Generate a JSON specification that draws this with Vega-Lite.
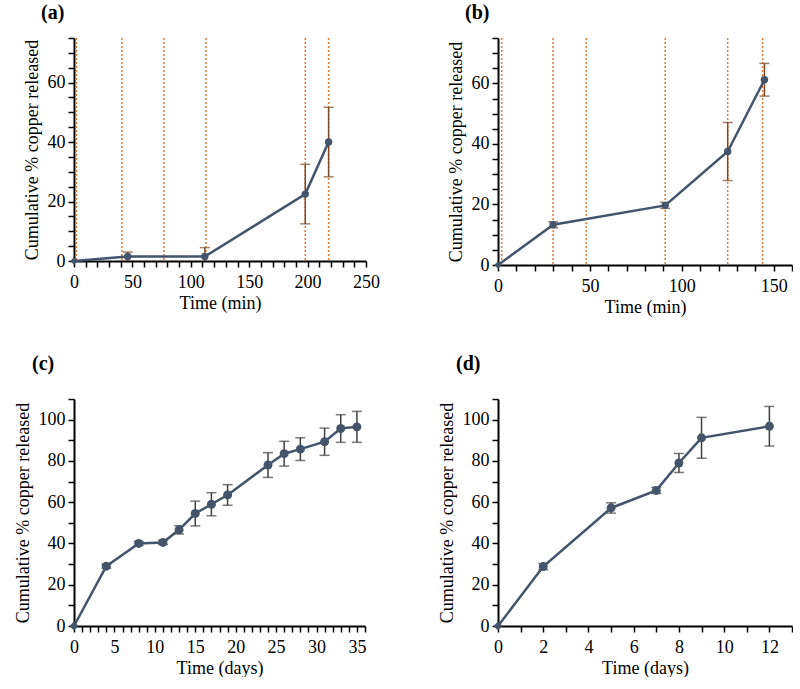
{
  "$schema": "https://vega.github.io/schema/vega-lite/v6.json",
  "padding": {"left": 14, "top": 3, "right": 0, "bottom": 0},
  "background": "white",
  "datasets": {
    "a": [{"t":0,"v":0,"e":0},{"t":46,"v":1.5,"e":1.5},{"t":112,"v":1.5,"e":3},{"t":198,"v":22.5,"e":10},{"t":218,"v":40,"e":11.7}],
    "a_lines": [{"t":2},{"t":41},{"t":77},{"t":113},{"t":198},{"t":218}],
    "b": [{"t":0,"v":0,"e":0},{"t":30,"v":13.3,"e":1},{"t":91,"v":19.7,"e":1},{"t":125,"v":37.5,"e":9.6},{"t":145,"v":61.2,"e":5.4}],
    "b_lines": [{"t":2},{"t":30},{"t":48},{"t":91},{"t":125},{"t":144}],
    "c": [{"t":0,"v":0,"e":0},{"t":4,"v":29,"e":1},{"t":8,"v":40,"e":1},{"t":11,"v":40.5,"e":1},{"t":13,"v":46.6,"e":2},{"t":15,"v":54.5,"e":6},{"t":17,"v":59,"e":5.6},{"t":19,"v":63.5,"e":5},{"t":24,"v":78,"e":6},{"t":26,"v":83.5,"e":6},{"t":28,"v":85.7,"e":5.5},{"t":31,"v":89.3,"e":6.6},{"t":33,"v":95.7,"e":6.7},{"t":35,"v":96.5,"e":7.5}],
    "d": [{"t":0,"v":0,"e":0},{"t":2,"v":28.8,"e":1.5},{"t":5,"v":57.2,"e":2.5},{"t":7,"v":65.7,"e":1.5},{"t":8,"v":79,"e":4.6},{"t":9,"v":91.2,"e":9.9},{"t":12,"v":96.8,"e":9.6}]
  },
  "columns": 2,
  "spacing": {"row": 38, "column": 58},
  "concat": [
    {
      "width": 292, "height": 223,
      "title": {"text": "(a)", "dx": 18, "offset": 6},
      "layer": [
        {"data": {"name": "a_lines"}, "mark": {"type": "rule", "color": "#E07B39", "strokeDash": [2,2], "strokeWidth": 1.5},
         "encoding": {"x": {"field": "t", "type": "quantitative", "scale": {"domain": [0,250], "nice": false}, "title": "Time (min)",
             "axis": {"values": [0,10,20,30,40,50,60,70,80,90,100,110,120,130,140,150,160,170,180,190,200,210,220,230,240,250], "labelExpr": "datum.value % 50 == 0 ? datum.label : ''"}}}},
        {"data": {"name": "a"}, "transform": [{"filter": "datum.e > 0"}],
         "mark": {"type": "errorbar", "ticks": {"size": 10}, "color": "#7A4A2A", "thickness": 1.5, "clip": true},
         "encoding": {"x": {"field": "t", "type": "quantitative", "scale": {"domain": [0,250], "nice": false}, "title": "Time (min)",
             "axis": {"values": [0,10,20,30,40,50,60,70,80,90,100,110,120,130,140,150,160,170,180,190,200,210,220,230,240,250], "labelExpr": "datum.value % 50 == 0 ? datum.label : ''"}},
           "y": {"field": "v", "type": "quantitative", "scale": {"domain": [0,75], "nice": false}, "title": "Cumulative % copper released",
             "axis": {"values": [0,5,10,15,20,25,30,35,40,45,50,55,60,65,70,75], "labelExpr": "datum.value % 20 == 0 ? datum.label : ''"}},
           "yError": {"field": "e"}}},
        {"data": {"name": "a"}, "mark": {"type": "line", "color": "#44546A", "strokeWidth": 2.5},
         "encoding": {"x": {"field": "t", "type": "quantitative", "scale": {"domain": [0,250], "nice": false}, "title": "Time (min)",
             "axis": {"values": [0,10,20,30,40,50,60,70,80,90,100,110,120,130,140,150,160,170,180,190,200,210,220,230,240,250], "labelExpr": "datum.value % 50 == 0 ? datum.label : ''"}},
           "y": {"field": "v", "type": "quantitative", "scale": {"domain": [0,75], "nice": false}, "title": "Cumulative % copper released",
             "axis": {"values": [0,5,10,15,20,25,30,35,40,45,50,55,60,65,70,75], "labelExpr": "datum.value % 20 == 0 ? datum.label : ''"}}}},
        {"data": {"name": "a"}, "mark": {"type": "point", "filled": true, "opacity": 1, "color": "#44546A", "size": 55},
         "encoding": {"x": {"field": "t", "type": "quantitative", "scale": {"domain": [0,250], "nice": false}, "title": "Time (min)",
             "axis": {"values": [0,10,20,30,40,50,60,70,80,90,100,110,120,130,140,150,160,170,180,190,200,210,220,230,240,250], "labelExpr": "datum.value % 50 == 0 ? datum.label : ''"}},
           "y": {"field": "v", "type": "quantitative", "scale": {"domain": [0,75], "nice": false}, "title": "Cumulative % copper released",
             "axis": {"values": [0,5,10,15,20,25,30,35,40,45,50,55,60,65,70,75], "labelExpr": "datum.value % 20 == 0 ? datum.label : ''"}},
           "shape": {"condition": {"test": "datum.t == 0", "value": "diamond"}, "value": "circle"}}}
      ]
    },
    {
      "width": 294, "height": 227,
      "title": {"text": "(b)", "dx": 18, "offset": 6},
      "layer": [
        {"data": {"name": "b_lines"}, "mark": {"type": "rule", "color": "#E07B39", "strokeDash": [2,2], "strokeWidth": 1.5},
         "encoding": {"x": {"field": "t", "type": "quantitative", "scale": {"domain": [0,160], "nice": false}, "title": "Time (min)",
             "axis": {"values": [0,10,20,30,40,50,60,70,80,90,100,110,120,130,140,150,160], "labelExpr": "datum.value % 50 == 0 ? datum.label : ''"}}}},
        {"data": {"name": "b"}, "transform": [{"filter": "datum.e > 0"}],
         "mark": {"type": "errorbar", "ticks": {"size": 10}, "color": "#7A4A2A", "thickness": 1.5, "clip": true},
         "encoding": {"x": {"field": "t", "type": "quantitative", "scale": {"domain": [0,160], "nice": false}, "title": "Time (min)",
             "axis": {"values": [0,10,20,30,40,50,60,70,80,90,100,110,120,130,140,150,160], "labelExpr": "datum.value % 50 == 0 ? datum.label : ''"}},
           "y": {"field": "v", "type": "quantitative", "scale": {"domain": [0,75], "nice": false}, "title": "Cumulative % copper released",
             "axis": {"values": [0,5,10,15,20,25,30,35,40,45,50,55,60,65,70,75], "labelExpr": "datum.value % 20 == 0 ? datum.label : ''"}},
           "yError": {"field": "e"}}},
        {"data": {"name": "b"}, "mark": {"type": "line", "color": "#44546A", "strokeWidth": 2.5},
         "encoding": {"x": {"field": "t", "type": "quantitative", "scale": {"domain": [0,160], "nice": false}, "title": "Time (min)",
             "axis": {"values": [0,10,20,30,40,50,60,70,80,90,100,110,120,130,140,150,160], "labelExpr": "datum.value % 50 == 0 ? datum.label : ''"}},
           "y": {"field": "v", "type": "quantitative", "scale": {"domain": [0,75], "nice": false}, "title": "Cumulative % copper released",
             "axis": {"values": [0,5,10,15,20,25,30,35,40,45,50,55,60,65,70,75], "labelExpr": "datum.value % 20 == 0 ? datum.label : ''"}}}},
        {"data": {"name": "b"}, "mark": {"type": "point", "filled": true, "opacity": 1, "color": "#44546A", "size": 55},
         "encoding": {"x": {"field": "t", "type": "quantitative", "scale": {"domain": [0,160], "nice": false}, "title": "Time (min)",
             "axis": {"values": [0,10,20,30,40,50,60,70,80,90,100,110,120,130,140,150,160], "labelExpr": "datum.value % 50 == 0 ? datum.label : ''"}},
           "y": {"field": "v", "type": "quantitative", "scale": {"domain": [0,75], "nice": false}, "title": "Cumulative % copper released",
             "axis": {"values": [0,5,10,15,20,25,30,35,40,45,50,55,60,65,70,75], "labelExpr": "datum.value % 20 == 0 ? datum.label : ''"}},
           "shape": {"condition": {"test": "datum.t == 0", "value": "diamond"}, "value": "circle"}}}
      ]
    },
    {
      "width": 291, "height": 227,
      "title": {"text": "(c)", "dx": 18, "offset": 16},
      "layer": [
        {"data": {"name": "c"}, "transform": [{"filter": "datum.e > 0"}],
         "mark": {"type": "errorbar", "ticks": {"size": 10}, "color": "#404040", "thickness": 1.5},
         "encoding": {"x": {"field": "t", "type": "quantitative", "scale": {"domain": [0,36], "nice": false}, "title": "Time (days)",
             "axis": {"values": [0,1,2,3,4,5,6,7,8,9,10,11,12,13,14,15,16,17,18,19,20,21,22,23,24,25,26,27,28,29,30,31,32,33,34,35,36], "labelExpr": "datum.value % 5 == 0 ? datum.label : ''"}},
           "y": {"field": "v", "type": "quantitative", "scale": {"domain": [0,110], "nice": false}, "title": "Cumulative % copper released",
             "axis": {"values": [0,10,20,30,40,50,60,70,80,90,100,110], "labelExpr": "datum.value % 20 == 0 ? datum.label : ''"}},
           "yError": {"field": "e"}}},
        {"data": {"name": "c"}, "mark": {"type": "line", "color": "#44546A", "strokeWidth": 2.5},
         "encoding": {"x": {"field": "t", "type": "quantitative", "scale": {"domain": [0,36], "nice": false}, "title": "Time (days)",
             "axis": {"values": [0,1,2,3,4,5,6,7,8,9,10,11,12,13,14,15,16,17,18,19,20,21,22,23,24,25,26,27,28,29,30,31,32,33,34,35,36], "labelExpr": "datum.value % 5 == 0 ? datum.label : ''"}},
           "y": {"field": "v", "type": "quantitative", "scale": {"domain": [0,110], "nice": false}, "title": "Cumulative % copper released",
             "axis": {"values": [0,10,20,30,40,50,60,70,80,90,100,110], "labelExpr": "datum.value % 20 == 0 ? datum.label : ''"}}}},
        {"data": {"name": "c"}, "mark": {"type": "point", "filled": true, "opacity": 1, "color": "#44546A", "size": 80},
         "encoding": {"x": {"field": "t", "type": "quantitative", "scale": {"domain": [0,36], "nice": false}, "title": "Time (days)",
             "axis": {"values": [0,1,2,3,4,5,6,7,8,9,10,11,12,13,14,15,16,17,18,19,20,21,22,23,24,25,26,27,28,29,30,31,32,33,34,35,36], "labelExpr": "datum.value % 5 == 0 ? datum.label : ''"}},
           "y": {"field": "v", "type": "quantitative", "scale": {"domain": [0,110], "nice": false}, "title": "Cumulative % copper released",
             "axis": {"values": [0,10,20,30,40,50,60,70,80,90,100,110], "labelExpr": "datum.value % 20 == 0 ? datum.label : ''"}},
           "shape": {"condition": {"test": "datum.t == 0", "value": "diamond"}, "value": "circle"}}}
      ]
    },
    {
      "width": 294, "height": 227,
      "title": {"text": "(d)", "dx": 18, "offset": 16},
      "layer": [
        {"data": {"name": "d"}, "transform": [{"filter": "datum.e > 0"}],
         "mark": {"type": "errorbar", "ticks": {"size": 10}, "color": "#404040", "thickness": 1.5},
         "encoding": {"x": {"field": "t", "type": "quantitative", "scale": {"domain": [0,13], "nice": false}, "title": "Time (days)",
             "axis": {"values": [0,1,2,3,4,5,6,7,8,9,10,11,12,13], "labelExpr": "datum.value % 2 == 0 ? datum.label : ''"}},
           "y": {"field": "v", "type": "quantitative", "scale": {"domain": [0,110], "nice": false}, "title": "Cumulative % copper released",
             "axis": {"values": [0,10,20,30,40,50,60,70,80,90,100,110], "labelExpr": "datum.value % 20 == 0 ? datum.label : ''"}},
           "yError": {"field": "e"}}},
        {"data": {"name": "d"}, "mark": {"type": "line", "color": "#44546A", "strokeWidth": 2.5},
         "encoding": {"x": {"field": "t", "type": "quantitative", "scale": {"domain": [0,13], "nice": false}, "title": "Time (days)",
             "axis": {"values": [0,1,2,3,4,5,6,7,8,9,10,11,12,13], "labelExpr": "datum.value % 2 == 0 ? datum.label : ''"}},
           "y": {"field": "v", "type": "quantitative", "scale": {"domain": [0,110], "nice": false}, "title": "Cumulative % copper released",
             "axis": {"values": [0,10,20,30,40,50,60,70,80,90,100,110], "labelExpr": "datum.value % 20 == 0 ? datum.label : ''"}}}},
        {"data": {"name": "d"}, "mark": {"type": "point", "filled": true, "opacity": 1, "color": "#44546A", "size": 80},
         "encoding": {"x": {"field": "t", "type": "quantitative", "scale": {"domain": [0,13], "nice": false}, "title": "Time (days)",
             "axis": {"values": [0,1,2,3,4,5,6,7,8,9,10,11,12,13], "labelExpr": "datum.value % 2 == 0 ? datum.label : ''"}},
           "y": {"field": "v", "type": "quantitative", "scale": {"domain": [0,110], "nice": false}, "title": "Cumulative % copper released",
             "axis": {"values": [0,10,20,30,40,50,60,70,80,90,100,110], "labelExpr": "datum.value % 20 == 0 ? datum.label : ''"}},
           "shape": {"condition": {"test": "datum.t == 0", "value": "diamond"}, "value": "circle"}}}
      ]
    }
  ],
  "config": {
    "font": "Liberation Serif",
    "view": {"stroke": null},
    "axis": {"grid": false, "domainColor": "#000000", "domainWidth": 2, "tickColor": "#000000", "tickWidth": 1.5, "tickSize": 6,
      "labelFontSize": 18, "titleFontSize": 18, "titleFontWeight": "normal", "labelColor": "#000000", "titleColor": "#000000",
      "labelPadding": 3, "titlePadding": 6, "labelFont": "Liberation Serif", "titleFont": "Liberation Serif",
      "labelOverlap": false, "labelBound": false, "labelFlush": false},
    "axisX": {"labelPadding": 6, "titlePadding": 3},
    "title": {"fontSize": 20, "fontWeight": "bold", "anchor": "start", "font": "Liberation Serif", "color": "#000000"}
  }
}
